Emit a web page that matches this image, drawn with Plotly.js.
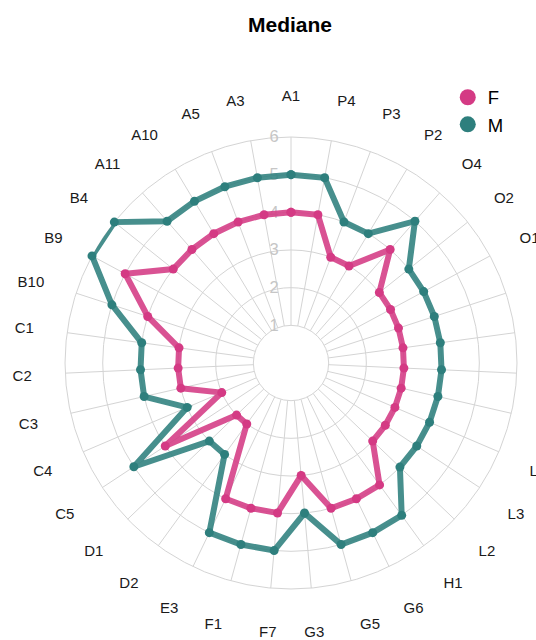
<!DOCTYPE html>
<html>
<head>
<meta charset="utf-8">
<script src="https://cdn.plot.ly/plotly-3.0.1.min.js"></script>
<style>
  html, body { margin: 0; padding: 0; overflow: hidden; background: #ffffff; }
  #chart { width: 580px; height: 640px; }
</style>
</head>
<body>
<div id="chart"></div>
<script>
// Categories in natural order (drawn counter-clockwise from the top)
const categories = ["A1","A3","A5","A10","A11","B4","B9","B10","C1","C2","C3","C4","C5",
  "D1","D2","E3","F1","F7","G3","G5","G6","H1","L2","L3","L4","M1","M2","N1","N2",
  "O1","O2","O4","P2","P3","P4"];
// Median values per category
const valuesF = [4,4,4,4,4,4,5,4,3,3,3,2,4,2,2,4,4,4,3,4,4,4,3,3,3,3,3,3,3,3,3,4,3,3,4];
const valuesM = [5,5,5,5,5,6,6,5,4,4,4,3,5,3,3,5,5,5,4,5,5,5,4,4,4,4,4,4,4,4,4,5,4,4,5];
const radialTicks = [1,2,3,4,5,6];
const seriesNames = ["F","M"];

const colF = "#d43a84", colM = "#2e7f7d";
const closeLoop = a => a.concat([a[0]]);
const thetaClosed = closeLoop(categories);

const font = "Liberation Sans, Arial, sans-serif";

const traces = [
  {
    type: "scatterpolar", mode: "lines+markers",
    r: closeLoop(valuesM), theta: thetaClosed, name: seriesNames[1],
    line: {color: "rgba(46,127,125,0.88)", width: 6},
    marker: {color: colM, size: 9},
    showlegend: false, hoverinfo: "skip"
  },
  {
    type: "scatterpolar", mode: "lines+markers",
    r: closeLoop(valuesF), theta: thetaClosed, name: seriesNames[0],
    line: {color: "rgba(212,58,132,0.88)", width: 6},
    marker: {color: colF, size: 9},
    showlegend: false, hoverinfo: "skip"
  },
  // legend entries (circle only)
  {
    type: "scatterpolar", mode: "markers", r: [null], theta: [null],
    name: seriesNames[0], marker: {color: colF, size: 16}, showlegend: true
  },
  {
    type: "scatterpolar", mode: "markers", r: [null], theta: [null],
    name: seriesNames[1], marker: {color: colM, size: 16}, showlegend: true
  }
];

const layout = {
  width: 580, height: 640,
  margin: {l: 0, r: 0, t: 0, b: 0},
  paper_bgcolor: "#ffffff",
  font: {family: font, color: "#1a1a1a"},
  title: {
    text: "<b>Mediane</b>",
    x: 0.5, xanchor: "center", y: 0.961, yanchor: "middle",
    font: {family: font, size: 21, color: "#000000"}
  },
  showlegend: true,
  legend: {
    x: 0.772, y: 0.877, xanchor: "left", yanchor: "top",
    font: {family: font, size: 18.5, color: "#000000"},
    bgcolor: "rgba(0,0,0,0)", traceorder: "normal",
    itemsizing: "trace"
  },
  polar: {
    domain: {x: [0.1121, 0.8914], y: [0.0797, 0.7859]},
    bgcolor: "#ffffff",
    hole: 1/6,
    radialaxis: {
      range: [1, 6],
      tickvals: radialTicks,
      ticktext: radialTicks.map(String),
      angle: 90,
      side: "counterclockwise",
      tickangle: 90,
      showline: false,
      ticks: "outside",
      ticklen: 6,
      tickcolor: "rgba(0,0,0,0)",
      gridcolor: "#d4d4d4",
      gridwidth: 1,
      tickfont: {family: font, size: 16.5, color: "#c6c6c6"},
      layer: "below traces"
    },
    angularaxis: {
      type: "category",
      categoryorder: "array",
      categoryarray: categories,
      rotation: 90,
      direction: "counterclockwise",
      showline: true,
      linecolor: "#d4d4d4",
      linewidth: 1,
      gridcolor: "#d4d4d4",
      gridwidth: 1,
      ticks: "outside",
      ticklen: 30,
      tickcolor: "rgba(0,0,0,0)",
      tickfont: {family: font, size: 15, color: "#1a1a1a"},
      layer: "below traces"
    }
  }
};

Plotly.newPlot("chart", traces, layout, {staticPlot: true, displayModeBar: false});
</script>
</body>
</html>
